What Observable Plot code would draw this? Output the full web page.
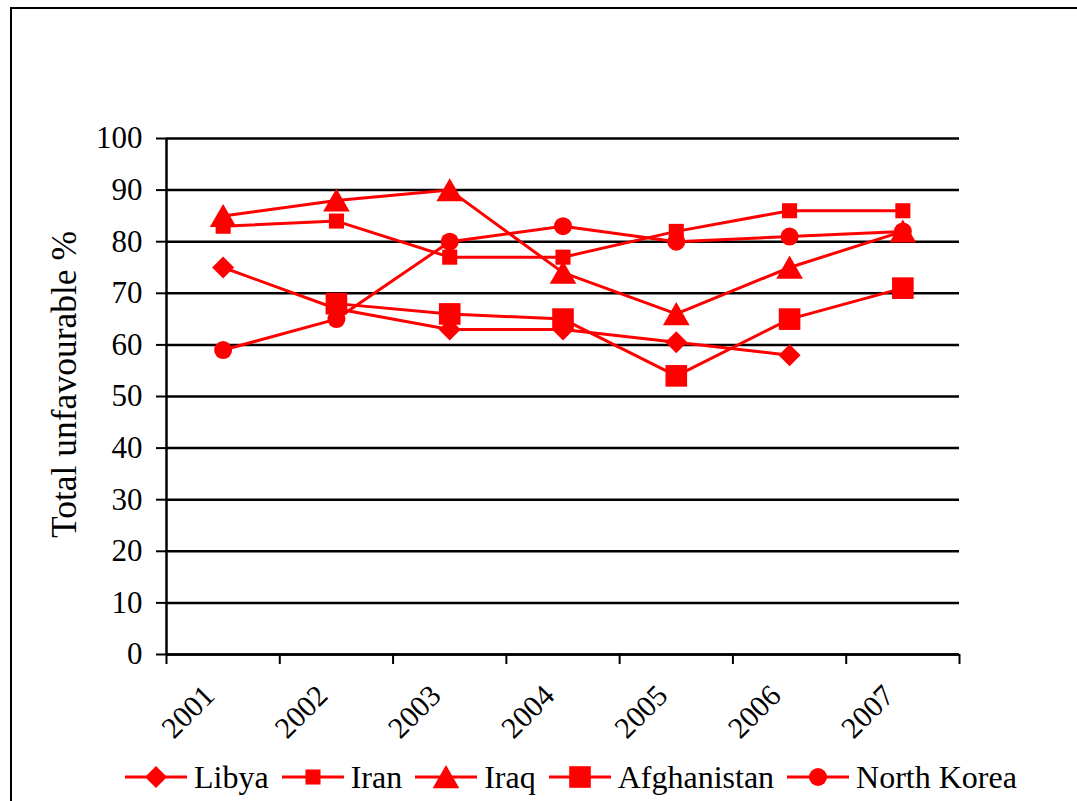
<!DOCTYPE html>
<html><head><meta charset="utf-8">
<script src="https://cdn.jsdelivr.net/npm/d3@7"></script>
<script src="https://cdn.jsdelivr.net/npm/@observablehq/plot@0.6"></script>
<style>
html,body{margin:0;padding:0;background:#fff;overflow:hidden;width:1077px;height:801px;}
#frame{position:absolute;left:10px;top:7px;width:1200px;height:1000px;border-left:2.5px solid #000;border-top:2.5px solid #000;pointer-events:none;}
#chart{position:absolute;left:0;top:0;}
#legend{position:absolute;left:125px;top:754px;height:46px;display:flex;align-items:center;font-family:"Times New Roman",Times,"Liberation Serif","DejaVu Serif",serif;font-size:32px;color:#000;white-space:nowrap;}
.item{display:flex;align-items:center;margin-right:13px;}
.item svg{margin-right:7px;display:block;}
svg text{font-family:"Times New Roman",Times,"Liberation Serif","DejaVu Serif",serif;}
</style></head><body>
<div id="chart"></div><div id="legend"></div><div id="frame"></div>
<script>
const years = [2001, 2002, 2003, 2004, 2005, 2006, 2007];
const libya = [75, 67, 63, 63, 60.5, 58, null];
const iran = [83, 84, 77, 77, 82, 86, 86];
const iraq = [85, 88, 90, 74, 66, 75, 82];
const afghanistan = [null, 68, 66, 65, 54, 65, 71];
const northKorea = [59, 65, 80, 83, 80, 81, 82];
const seriesNames = ["Libya", "Iran", "Iraq", "Afghanistan", "North Korea"];
const yTicks = [0, 10, 20, 30, 40, 50, 60, 70, 80, 90, 100];
const yTitle = "Total unfavourable %";

const FONT = "'Times New Roman', Times, 'Liberation Serif', 'DejaVu Serif', serif";
const seriesValues = [libya, iran, iraq, afghanistan, northKorea];
const symbols = [
  {symbol: "diamond2", r: 9.9, dy: 0, d3s: d3.symbolDiamond2},
  {symbol: "square", r: 8.5, dy: 0, d3s: d3.symbolSquare},
  {symbol: "triangle", r: 9.9, dy: 3.5, d3s: d3.symbolTriangle},
  {symbol: "square", r: 12.2, dy: 0, d3s: d3.symbolSquare},
  {symbol: "circle", r: 9, dy: 0, d3s: d3.symbolCircle}
];
const RED = "#ff0000";

const rows = [];
seriesNames.forEach((name, i) => {
  years.forEach((yr, j) => {
    const v = seriesValues[i][j];
    if (v != null) rows.push({series: name, year: yr, value: v});
  });
});
// category boundaries for the x ticks
const bounds = [years[0] - 0.5, ...years.map(y => y + 0.5)];

const marks = [
  Plot.gridY(yTicks, {stroke: "#000", strokeOpacity: 1, strokeWidth: 2.5}),
  Plot.ruleX([bounds[0]], {stroke: "#000", strokeWidth: 2.5}),
  Plot.ruleY([0], {stroke: "#000", strokeWidth: 2.5}),
  Plot.axisY({ticks: yTicks, tickSize: 10, tickPadding: 14, fontSize: 31, strokeWidth: 2, label: null}),
  Plot.axisX({ticks: bounds, tickSize: 10, tickFormat: () => "", strokeWidth: 2, label: null}),
  Plot.text(years, {x: d => d, text: d => String(d), frameAnchor: "bottom", rotate: -45, textAnchor: "end", dx: -7, dy: 43, fontSize: 30}),
  Plot.text([yTitle], {frameAnchor: "left", textAnchor: "middle", dx: -102, dy: -12, rotate: -90, fontSize: 35.5})
];
seriesNames.forEach((name, i) => {
  const data = rows.filter(d => d.series === name);
  marks.push(Plot.line(data, {x: "year", y: "value", stroke: RED, strokeWidth: 3}));
  marks.push(Plot.dot(data, {x: "year", y: "value", symbol: symbols[i].symbol, r: symbols[i].r, fill: RED, stroke: "none", dy: symbols[i].dy}));
});

const chart = Plot.plot({
  width: 1077,
  height: 754,
  marginLeft: 166,
  marginRight: 118,
  marginTop: 138,
  marginBottom: 100,
  style: {fontFamily: FONT, fontSize: "30px", color: "#000", background: "transparent"},
  x: {type: "linear", domain: [bounds[0], bounds[bounds.length - 1]], label: null},
  y: {domain: [0, 100], label: null},
  marks
});
document.getElementById("chart").appendChild(chart);

// legend
const legend = d3.select("#legend");
seriesNames.forEach((name, i) => {
  const item = legend.append("div").attr("class", "item");
  const svg = item.append("svg").attr("width", 62).attr("height", 30);
  svg.append("line").attr("x1", 0).attr("x2", 62).attr("y1", 15).attr("y2", 15).attr("stroke", RED).attr("stroke-width", 3);
  const size = Math.PI * symbols[i].r * symbols[i].r;
  svg.append("path").attr("d", d3.symbol(symbols[i].d3s, size)()).attr("transform", `translate(31,${15 + symbols[i].dy})`).attr("fill", RED);
  item.append("span").text(name);
});
</script></body></html>
